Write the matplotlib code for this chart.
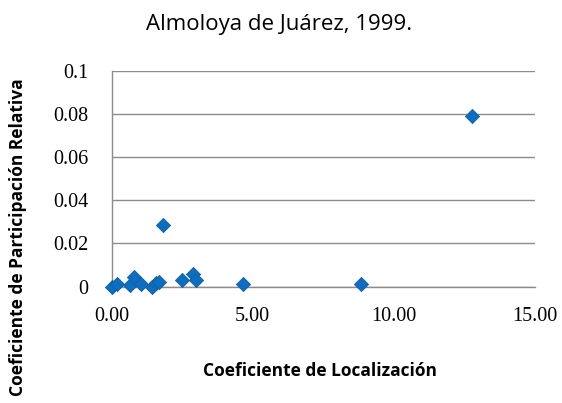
import matplotlib.pyplot as plt

# Coeficiente de Localización vs Coeficiente de Participación Relativa
loc_coef = [0.02, 0.20, 0.65, 0.79, 1.03, 1.42, 1.56, 1.68, 1.81,
            2.51, 2.87, 2.99, 4.65, 8.84, 12.77]
part_coef = [0.0, 0.0010, 0.0005, 0.0043, 0.0010, 0.0, 0.0015, 0.0020, 0.0284,
             0.0030, 0.0057, 0.0032, 0.0013, 0.0013, 0.0790]
x_ticks = [0, 5, 10, 15]
y_ticks = [0, 0.02, 0.04, 0.06, 0.08, 0.1]
y_labels = ["0", "0.02", "0.04", "0.06", "0.08", "0.1"]

fig = plt.figure(figsize=(5.62, 4.03), dpi=100)
ax = fig.add_axes([0.1985, 0.289, 0.7535, 0.535])

ax.scatter(loc_coef, part_coef, marker="D", s=52, color="#0A6FC2",
           edgecolor="#1B5C96", linewidth=0.6, zorder=3, clip_on=False)

ax.set_xlim(0, 15)
ax.set_ylim(0, 0.1)
ax.set_xticks(x_ticks)
ax.set_xticklabels([f"{v:.2f}" for v in x_ticks])
ax.set_yticks(y_ticks)
ax.set_yticklabels(y_labels)
ax.tick_params(length=0, labelsize=14.5)
ax.tick_params(axis="x", pad=15)
ax.tick_params(axis="y", pad=16.5)
for lab in ax.get_xticklabels() + ax.get_yticklabels():
    lab.set_family("Liberation Serif")

ax.grid(axis="y", color="#8c8c8c", linewidth=1)
ax.set_axisbelow(True)
for s in ["top", "right"]:
    ax.spines[s].set_visible(False)
for s in ["left", "bottom"]:
    ax.spines[s].set_color("#8c8c8c")
    ax.spines[s].set_linewidth(1)

fig.text(0.496, 0.9256, "Almoloya de Juárez, 1999.", ha="center", va="baseline",
         fontsize=16, family="Open Sans")
fig.text(0.570, 0.067, "Coeficiente de Localización", ha="center", va="baseline",
         fontsize=12.5, fontweight="bold", family="Open Sans")
fig.text(0.032, 0.412, "Coeficiente de Participación Relativa", ha="center",
         va="center", rotation=90, fontsize=12.5, fontweight="bold",
         family="Open Sans")

fig.savefig("out.png", dpi=100)
